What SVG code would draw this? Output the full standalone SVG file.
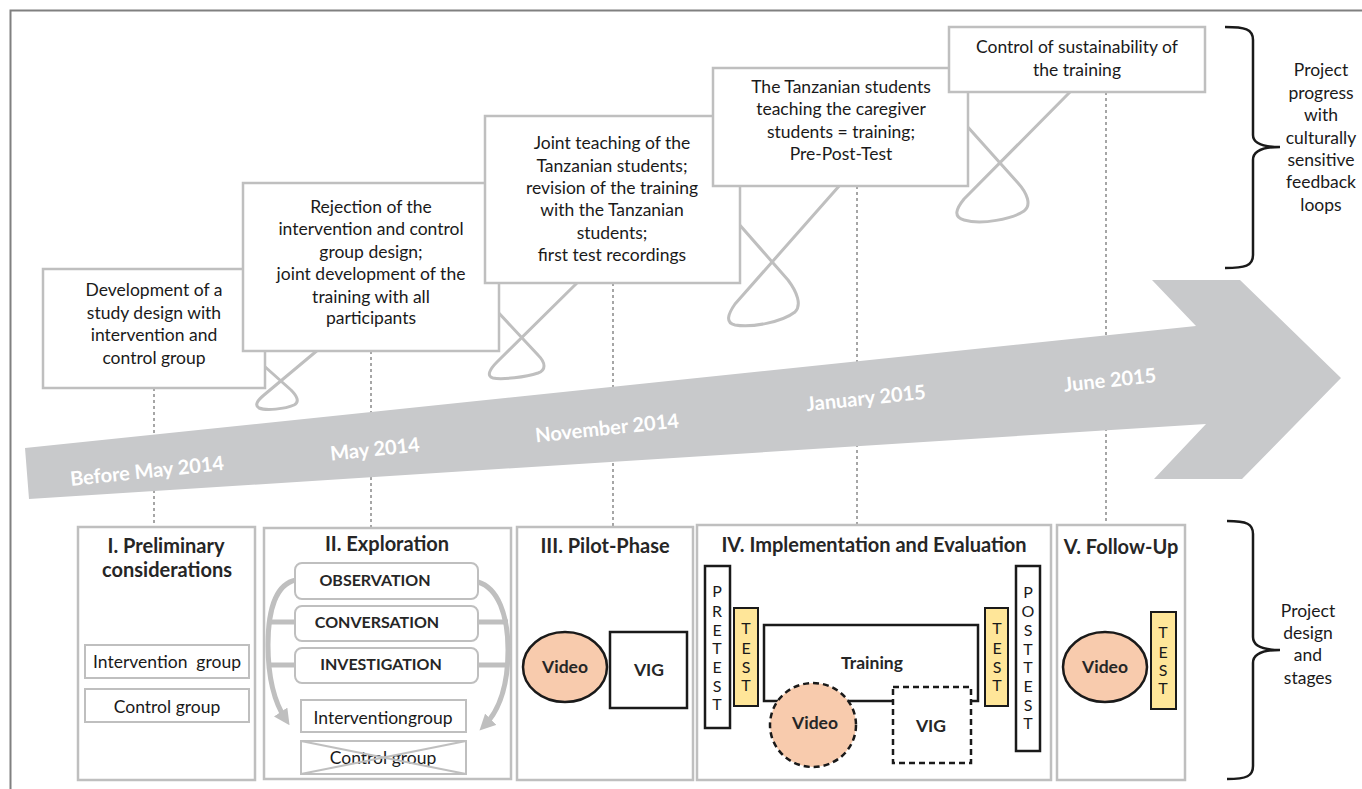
<svg xmlns="http://www.w3.org/2000/svg" width="1362" height="789" viewBox="0 0 1362 789">
<defs>
<style>
.t{font-family:Lato,"Liberation Sans",sans-serif;font-size:17.5px;fill:#1a1a1a;text-anchor:middle}
.v{font-family:Lato,"Liberation Sans",sans-serif;font-size:16px;fill:#1a1a1a;text-anchor:middle}
.tb{font-family:Lato,"Liberation Sans",sans-serif;font-weight:bold;fill:#262626;text-anchor:middle}
.h{font-size:20px}
.al{font-family:Lato,"Liberation Sans",sans-serif;font-weight:bold;font-size:20px;fill:#ffffff;text-anchor:middle}
.box{fill:#ffffff;stroke:#bfbfbf;stroke-width:2.5}
.loop{fill:none;stroke:#bfbfbf;stroke-width:3;stroke-linejoin:round}
.dot{stroke:#a6a6a6;stroke-width:2;stroke-dasharray:3 3}
.stage{fill:#ffffff;stroke:#bfbfbf;stroke-width:2.5}
.sm{fill:#ffffff;stroke:#bfbfbf;stroke-width:2}
.blk{fill:#ffffff;stroke:#1a1a1a;stroke-width:2.5}
.dash{fill:#ffffff;stroke:#1a1a1a;stroke-width:2.5;stroke-dasharray:6 4}
.peach{fill:#f8cbad;stroke:#1a1a1a;stroke-width:2.5}
.yel{fill:#ffe699;stroke:#1a1a1a;stroke-width:2}
.brace{fill:none;stroke:#1a1a1a;stroke-width:2.5}
.garc{fill:none;stroke:#bfbfbf;stroke-width:5}
</style>
<marker id="ah" viewBox="0 0 10 10" refX="6" refY="5" markerUnits="userSpaceOnUse" markerWidth="16" markerHeight="16" orient="auto">
<path d="M0,0 L10,5 L0,10 Z" fill="#bfbfbf"/>
</marker>
</defs>
<rect x="0" y="0" width="1362" height="789" fill="#ffffff"/>
<path d="M10.5,789 L10.5,10.5 L1362,10.5" fill="none" stroke="#808080" stroke-width="2"/>

<g id="connectors">
<line class="dot" x1="154" y1="388" x2="154" y2="527"/>
<line class="dot" x1="371" y1="351" x2="371" y2="528"/>
<line class="dot" x1="613" y1="283" x2="613" y2="527"/>
<line class="dot" x1="857" y1="186" x2="857" y2="525"/>
<line class="dot" x1="1106" y1="92" x2="1106" y2="525"/>
<path class="loop" d="M263,365 L291,390 C297,396 300,402 294,405 C285,409 266,411 259,408 C254,405 258,400 264,395 L319,349"/>
<path class="loop" d="M496,310 L538,355 C546,363 546,370 538,373 C526,377 502,380 493,378 C486,376 490,369 497,362 L579,281"/>
<path class="loop" d="M738,223 L788,280 C797,292 802,305 795,312 C782,322 752,328 735,325 C725,323 728,314 735,304 L840,185"/>
<path class="loop" d="M966,125 L1018,183 C1027,193 1032,205 1024,211 C1012,219 982,225 964,220 C953,217 956,209 964,199 L1071,91"/>
</g>

<g id="timeline">
<polygon points="25,448 1196,326 1152,280 1240,280 1341,378 1242,479 1154,479 1206,424 29,499" fill="#c8c9cb"/>
<text class="al" x="147" y="478" transform="rotate(-6 147 471)">Before May 2014</text>
<text class="al" x="375" y="456" transform="rotate(-6 375 449)">May 2014</text>
<text class="al" x="607" y="435" transform="rotate(-6 607 428)">November 2014</text>
<text class="al" x="866" y="405" transform="rotate(-6 866 398)">January 2015</text>
<text class="al" x="1110" y="387" transform="rotate(-6 1110 380)">June 2015</text>
</g>

<g id="m1">
<rect class="box" x="43" y="269" width="222" height="119"/>
<text class="t" x="154" y="296">Development of a</text>
<text class="t" x="154" y="319">study design with</text>
<text class="t" x="154" y="341">intervention and</text>
<text class="t" x="154" y="364">control group</text>
</g>
<g id="m2">
<rect class="box" x="243" y="183" width="256" height="168"/>
<text class="t" x="371" y="213">Rejection of the</text>
<text class="t" x="371" y="235">intervention and control</text>
<text class="t" x="371" y="258">group design;</text>
<text class="t" x="371" y="280">joint development of the</text>
<text class="t" x="371" y="303">training with all</text>
<text class="t" x="371" y="324">participants</text>
</g>
<g id="m3">
<rect class="box" x="485" y="116" width="255" height="167"/>
<text class="t" x="612" y="149">Joint teaching of the</text>
<text class="t" x="612" y="172">Tanzanian students;</text>
<text class="t" x="612" y="194">revision of the training</text>
<text class="t" x="612" y="216">with the Tanzanian</text>
<text class="t" x="612" y="239">students;</text>
<text class="t" x="612" y="261">first test recordings</text>
</g>
<g id="m4">
<rect class="box" x="713" y="68" width="255" height="118"/>
<text class="t" x="841" y="93">The Tanzanian students</text>
<text class="t" x="841" y="115">teaching the caregiver</text>
<text class="t" x="841" y="138">students = training;</text>
<text class="t" x="841" y="160">Pre-Post-Test</text>
</g>
<g id="m5">
<rect class="box" x="949" y="27" width="256" height="65"/>
<text class="t" x="1077" y="53">Control of sustainability of</text>
<text class="t" x="1077" y="76">the training</text>
</g>

<g id="brace-top">
<path class="brace" d="M1225,27 C1245,27 1253,29 1253,40 L1253,135 C1253,143 1262,147 1280,147 C1262,147 1253,151 1253,160 L1253,255 C1253,266 1245,268 1225,268"/>
<text class="t" x="1321" y="76">Project</text>
<text class="t" x="1321" y="99">progress</text>
<text class="t" x="1321" y="121">with</text>
<text class="t" x="1321" y="144">culturally</text>
<text class="t" x="1321" y="166">sensitive</text>
<text class="t" x="1321" y="188">feedback</text>
<text class="t" x="1321" y="211">loops</text>
</g>

<g id="stage1">
<rect class="stage" x="78" y="527" width="177" height="253"/>
<text class="tb h" x="166" y="553">I. Preliminary</text>
<text class="tb h" x="167" y="577">considerations</text>
<rect class="sm" x="85" y="645" width="164" height="33"/>
<text class="t" x="167" y="668" xml:space="preserve">Intervention  group</text>
<rect class="sm" x="85" y="689" width="164" height="33"/>
<text class="t" x="167" y="713">Control group</text>
</g>

<g id="stage2">
<rect class="stage" x="264" y="528" width="247" height="251"/>
<text class="tb h" x="387" y="551">II. Exploration</text>
<line class="garc" x1="268" y1="622" x2="296" y2="622"/>
<line class="garc" x1="268" y1="665" x2="296" y2="665"/>
<line class="garc" x1="478" y1="622" x2="508" y2="622"/>
<line class="garc" x1="478" y1="665" x2="508" y2="665"/>
<path class="garc" d="M296,580 C276,584 268,610 268,645 C268,680 276,705 286,720" marker-end="url(#ah)"/>
<path class="garc" d="M478,582 C498,588 508,615 508,650 C508,690 498,712 484,726" marker-end="url(#ah)"/>
<rect class="sm" x="295" y="563" width="183" height="36" rx="7" stroke-width="2.5"/>
<text class="tb" x="375" y="586" font-size="16">OBSERVATION</text>
<rect class="sm" x="295" y="606" width="183" height="35" rx="7" stroke-width="2.5"/>
<text class="tb" x="377" y="628" font-size="16">CONVERSATION</text>
<rect class="sm" x="295" y="648" width="183" height="35" rx="7" stroke-width="2.5"/>
<text class="tb" x="381" y="670" font-size="16">INVESTIGATION</text>
<rect class="sm" x="301" y="700" width="165" height="32"/>
<text class="t" x="383" y="724">Interventiongroup</text>
<rect class="sm" x="301" y="741" width="165" height="33"/>
<text class="t" x="383" y="764">Control group</text>
<line x1="301" y1="741" x2="466" y2="774" stroke="#bfbfbf" stroke-width="2"/>
<line x1="301" y1="774" x2="466" y2="741" stroke="#bfbfbf" stroke-width="2"/>
</g>

<g id="stage3">
<rect class="stage" x="517" y="527" width="176" height="253"/>
<text class="tb h" x="605" y="553">III. Pilot-Phase</text>
<rect class="blk" x="610" y="632" width="77" height="76"/>
<text class="tb" x="649" y="676" font-size="17.5">VIG</text>
<ellipse class="peach" cx="565" cy="667" rx="42" ry="35"/>
<text class="tb" x="565" y="673" font-size="17.5">Video</text>
</g>

<g id="stage4">
<rect class="stage" x="697" y="525" width="354" height="255"/>
<text class="tb h" x="874" y="552">IV. Implementation and Evaluation</text>
<rect class="blk" x="705" y="566" width="25" height="162"/>
<text class="v" x="717" y="597">P<tspan x="717" dy="19.5">R</tspan><tspan x="717" dy="19">E</tspan><tspan x="717" dy="18.5">T</tspan><tspan x="717" dy="19">E</tspan><tspan x="717" dy="19">S</tspan><tspan x="717" dy="17.5">T</tspan></text>
<rect class="yel" x="734" y="608" width="24" height="98"/>
<text class="v" x="746" y="634">T<tspan x="746" dy="19.5">E</tspan><tspan x="746" dy="19">S</tspan><tspan x="746" dy="18.5">T</tspan></text>
<rect class="blk" x="764" y="625" width="214" height="76"/>
<text class="tb" x="872" y="669" font-size="17.5">Training</text>
<ellipse class="dash" cx="813" cy="725" rx="43" ry="42" style="fill:#f8cbad"/>
<text class="tb" x="815" y="729" font-size="17.5">Video</text>
<rect class="dash" x="893" y="687" width="78" height="76"/>
<text class="tb" x="931" y="732" font-size="17.5">VIG</text>
<rect class="yel" x="985" y="608" width="23" height="98"/>
<text class="v" x="997" y="634">T<tspan x="997" dy="19.5">E</tspan><tspan x="997" dy="19">S</tspan><tspan x="997" dy="18.5">T</tspan></text>
<rect class="blk" x="1016" y="566" width="24" height="185"/>
<text class="v" x="1028" y="598">P<tspan x="1028" dy="19">O</tspan><tspan x="1028" dy="19">S</tspan><tspan x="1028" dy="18.5">T</tspan><tspan x="1028" dy="18.5">T</tspan><tspan x="1028" dy="19">E</tspan><tspan x="1028" dy="18.5">S</tspan><tspan x="1028" dy="18">T</tspan></text>
</g>

<g id="stage5">
<rect class="stage" x="1057" y="525" width="128" height="255"/>
<text class="tb h" x="1121" y="554">V. Follow-Up</text>
<ellipse class="peach" cx="1105" cy="667" rx="42" ry="35"/>
<text class="tb" x="1105" y="673" font-size="17.5">Video</text>
<rect class="yel" x="1151" y="612" width="25" height="97"/>
<text class="v" x="1163" y="638">T<tspan x="1163" dy="20">E</tspan><tspan x="1163" dy="18">S</tspan><tspan x="1163" dy="18">T</tspan></text>
</g>

<g id="brace-bottom">
<path class="brace" d="M1227,521 C1247,521 1253,524 1253,534 L1253,637 C1253,646 1262,650 1280,650 C1262,650 1253,654 1253,663 L1253,766 C1253,776 1247,779 1227,779"/>
<text class="t" x="1308" y="617">Project</text>
<text class="t" x="1308" y="639">design</text>
<text class="t" x="1308" y="661">and</text>
<text class="t" x="1308" y="684">stages</text>
</g>
</svg>
